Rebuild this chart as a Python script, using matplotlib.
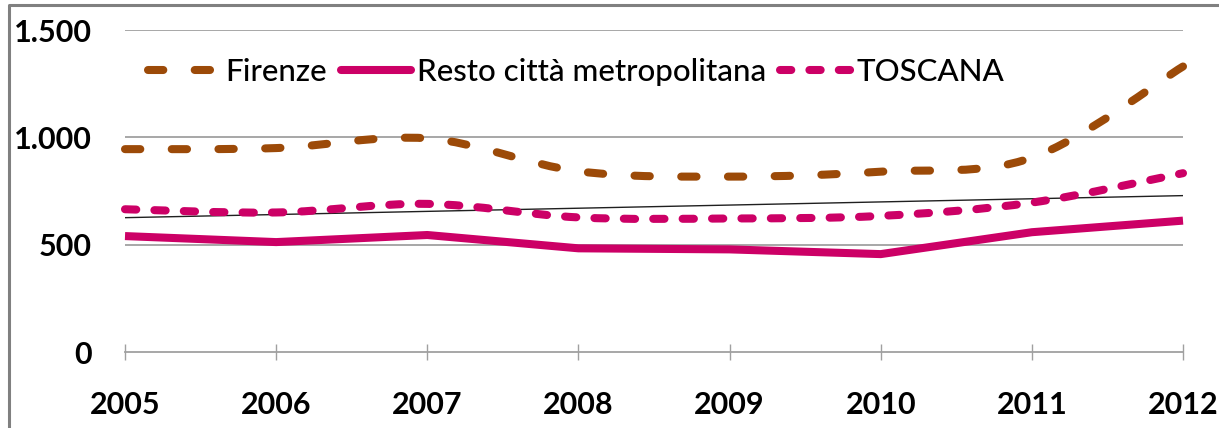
import numpy as np
import matplotlib.pyplot as plt
from matplotlib.path import Path
from matplotlib.patches import PathPatch
from matplotlib.lines import Line2D

plt.rcParams['font.family'] = ['Lato', 'DejaVu Sans']

years = [2005, 2006, 2007, 2008, 2009, 2010, 2011, 2012]
firenze = [945, 950, 995, 842, 817, 840, 905, 1330]
resto = [540, 512, 545, 483, 478, 456, 558, 612]
toscana = [665, 650, 690, 627, 622, 634, 696, 833]
yticks = [0, 500, 1000, 1500]
ytick_labels = ['0', '500', '1.000', '1.500']

brown = '#9c4a08'
pink = '#cc0066'
grey = '#a0a0a0'


def smooth_path(x, y):
    # excel style smoothed line as cubic bezier segments
    n = len(x)
    verts = [(x[0], y[0])]
    codes = [Path.MOVETO]
    for i in range(n - 1):
        a = max(i - 1, 0)
        b = min(i + 2, n - 1)
        c1 = (x[i] + (x[i + 1] - x[a]) / 6, y[i] + (y[i + 1] - y[a]) / 6)
        c2 = (x[i + 1] - (x[b] - x[i]) / 6, y[i + 1] - (y[b] - y[i]) / 6)
        verts += [c1, c2, (x[i + 1], y[i + 1])]
        codes += [Path.CURVE4] * 3
    return Path(verts, codes)


fig = plt.figure(figsize=(12.19, 4.28), dpi=100)
ax = fig.add_axes([125 / 1219, 76 / 428, 1058 / 1219, 322 / 428])

ax.set_xlim(2005, 2012)
ax.set_ylim(0, 1500)

for v in yticks[1:]:
    ax.axhline(v, color=grey, lw=1.3, zorder=1)

# linear trend of TOSCANA
coef = np.polyfit(years, toscana, 1)
ax.plot([years[0], years[-1]], np.polyval(coef, [years[0], years[-1]]),
        color='#202020', lw=1.0, zorder=2)

lw = 5.8
fire_ls = (0, (1.9, 3.9))
tosc_ls = (0, (1.4, 2.25))

for vals, col, ls in [(firenze, brown, fire_ls), (toscana, pink, tosc_ls)]:
    ax.add_patch(PathPatch(smooth_path(years, vals), fill=False, edgecolor=col,
                           lw=lw, linestyle=ls, capstyle='round',
                           joinstyle='round', clip_on=False, zorder=3))
ax.plot(years, resto, color=pink, lw=lw, solid_capstyle='butt',
        solid_joinstyle='round', clip_on=False, zorder=3)

handles = [
    Line2D([], [], color=brown, lw=lw, linestyle=fire_ls, dash_capstyle='round'),
    Line2D([], [], color=pink, lw=lw, solid_capstyle='round'),
    Line2D([], [], color=pink, lw=lw, linestyle=tosc_ls, dash_capstyle='round'),
]
ax.legend(handles, ['Firenze', 'Resto città metropolitana', 'TOSCANA'],
          loc='center left', bbox_to_anchor=(0.022, 0.87), ncol=3,
          frameon=False, prop={'size': 22.5, 'weight': 'medium'},
          handlelength=2.25, handletextpad=0.2,
          columnspacing=0.45, borderpad=0, borderaxespad=0)

for s in ['top', 'right', 'left']:
    ax.spines[s].set_visible(False)
ax.spines['bottom'].set_color(grey)
ax.spines['bottom'].set_linewidth(1.3)

ax.set_xticks(years)
ax.set_xticklabels([str(y) for y in years], fontsize=22, fontweight='bold')
ax.tick_params(axis='x', direction='inout', length=11.5, width=1.0,
               color=grey, pad=22)
ax.set_yticks(yticks)
ax.set_yticklabels(ytick_labels, fontsize=22, fontweight='bold')
ax.tick_params(axis='y', length=0, pad=24)

# outer frame of the picture
fig.add_artist(Line2D([9 / 1219, 9 / 1219, 1], [0, 423 / 428, 423 / 428],
                      transform=fig.transFigure, color='#808080', lw=2.2))

fig.savefig('out.png', dpi=100)
